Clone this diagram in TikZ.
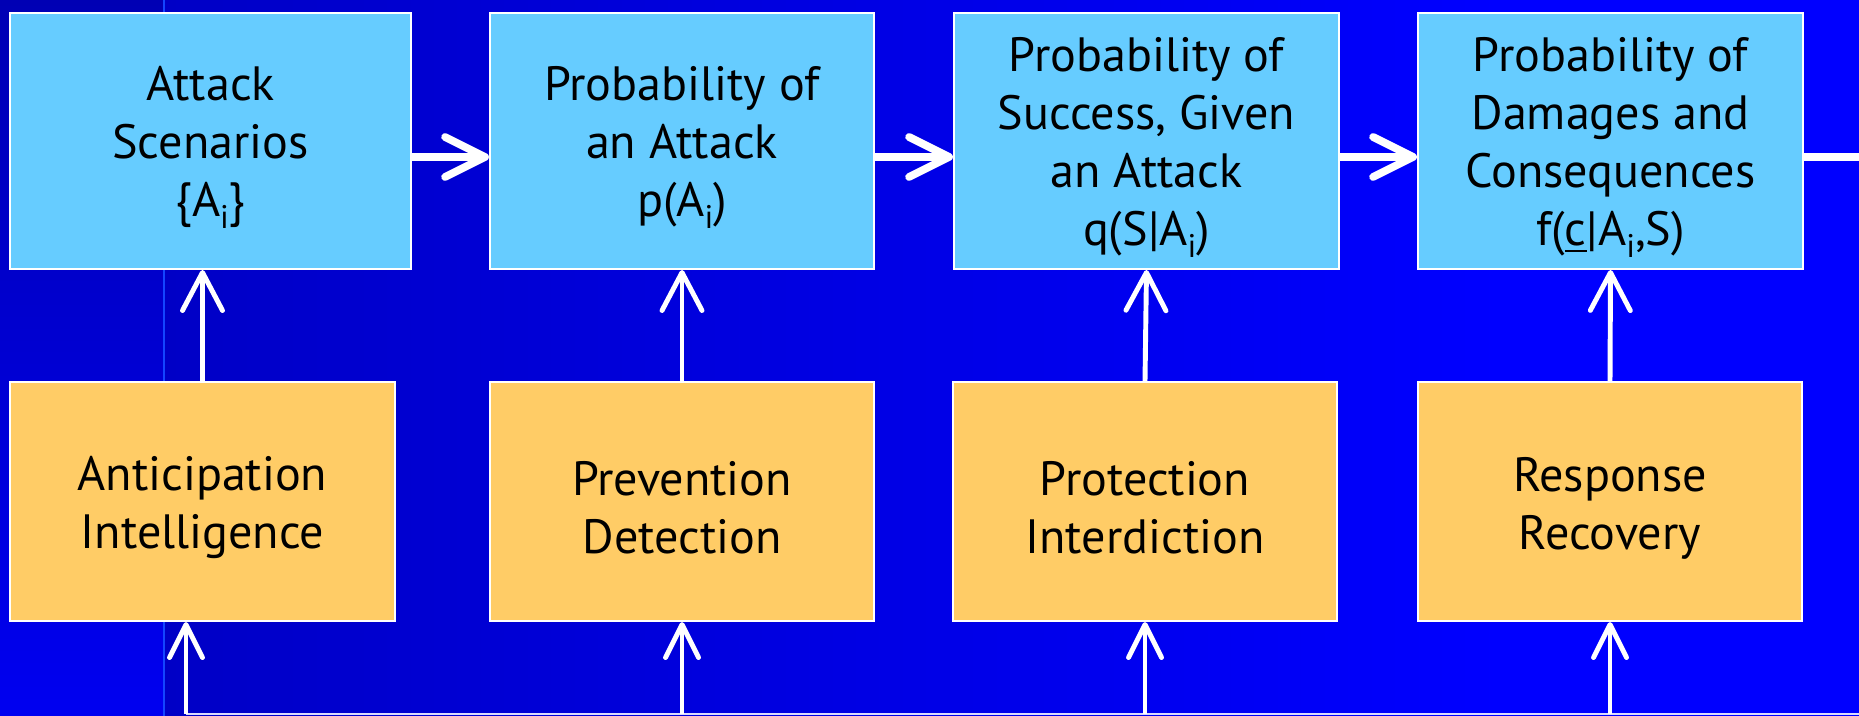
\documentclass[tikz,border=0pt]{standalone}
\usepackage{fontspec}
\setmainfont{PT Sans}
\usetikzlibrary{arrows.meta}

\definecolor{slideblue}{HTML}{0000FF}
\definecolor{slidedark}{HTML}{0000C6}
\definecolor{stripdark}{HTML}{0000B4}
\definecolor{stripbright}{HTML}{0000F0}
\definecolor{stageblue}{HTML}{66CCFF}
\definecolor{measurebuff}{HTML}{FFCC66}

\newcommand{\idx}[1]{\raisebox{-3.4pt}{\fontsize{9.3}{9.3}\selectfont #1}}
\newcommand{\topgap}{\rule{0pt}{4.7mm}}

\begin{document}
\begin{tikzpicture}[
    box/.style={draw=white, line width=0.6pt, inner sep=0pt, align=center,
      font=\fontsize{13.7}{16.5}\selectfont},
    stage/.style={box, fill=stageblue, minimum height=2.56cm},
    measure/.style={box, fill=measurebuff, minimum height=2.39cm},
    flow/.style={white, line width=2.2pt, -{Straight Barb[length=4mm,width=4mm,round]}},
    feed/.style={white, line width=1.4pt, -{Straight Barb[length=3.8mm,width=4mm,round]}},
    input/.style={white, line width=1.4pt, -{Straight Barb[length=3.3mm,width=3.3mm,round]}}
  ]
    % background
    \useasboundingbox (0,0) rectangle (18.59,7.16);
    \shade[top color=stripdark, bottom color=stripbright] (0,0) rectangle (1.64,7.16);
    \shade[left color=slidedark, right color=slideblue] (1.64,0) rectangle (15,7.16);
    \fill[slideblue] (15,0) rectangle (18.59,7.16);
    \draw[color={rgb,255:red,20;green,70;blue,255}, line width=0.6pt] (1.64,0) -- (1.64,7.16);

    % chain of probabilities
    \node[stage, minimum width=4.01cm] (scen) at (2.105,5.75) {\topgap Attack\\Scenarios\\\{A\idx{i}\}};
    \node[stage, minimum width=3.84cm] (attack) at (6.82,5.75) {\topgap Probability of\\an Attack\\p(A\idx{i})};
    \node[stage, minimum width=3.85cm] (success) at (11.465,5.75) {\topgap Probability of\\Success, Given\\an Attack\\q(S|A\idx{i})};
    \node[stage, minimum width=3.85cm] (damage) at (16.105,5.75) {\topgap Probability of\\Damages and\\Consequences\\f(\underline{c}|A\idx{i},S)};

    % countermeasures
    \node[measure, minimum width=3.85cm] (intel) at (2.025,2.145) {\topgap Anticipation\\Intelligence};
    \node[measure, minimum width=3.84cm] (prevent) at (6.82,2.145) {\topgap Prevention\\Detection};
    \node[measure, minimum width=3.84cm] (protect) at (11.45,2.145) {\topgap Protection\\Interdiction};
    \node[measure, minimum width=3.84cm] (respond) at (16.10,2.145) {\topgap Response\\Recovery};

    \draw[flow] ([yshift=-1.6mm]scen.east) -- ([yshift=-1.6mm]attack.west);
    \draw[flow] ([yshift=-1.6mm]attack.east) -- ([yshift=-1.6mm]success.west);
    \draw[flow] ([yshift=-1.6mm]success.east) -- ([yshift=-1.6mm]damage.west);
    \coordinate (exit) at (18.59,5.59);
    \draw[white, line width=2.2pt] (damage.east |- exit) -- (exit);

    \draw[feed] (intel.north) -- (intel.north |- scen.south);
    \draw[feed] (prevent.north) -- (attack.south);
    \draw[feed] (protect.north) -- (success.south);
    \draw[feed] (respond.north) -- (damage.south);

    % input bus along the bottom
    \coordinate (bus) at (1.86,0.02);
    \coordinate (busend) at (18.59,0.02);
    \draw[white!85!blue, line width=0.6pt] (bus) -- (busend);
    \draw[input] (bus) -- (bus |- intel.south);
    \draw[input] (prevent.south |- bus) -- (prevent.south);
    \draw[input] (protect.south |- bus) -- (protect.south);
    \draw[input] (respond.south |- bus) -- (respond.south);
\end{tikzpicture}
\end{document}
